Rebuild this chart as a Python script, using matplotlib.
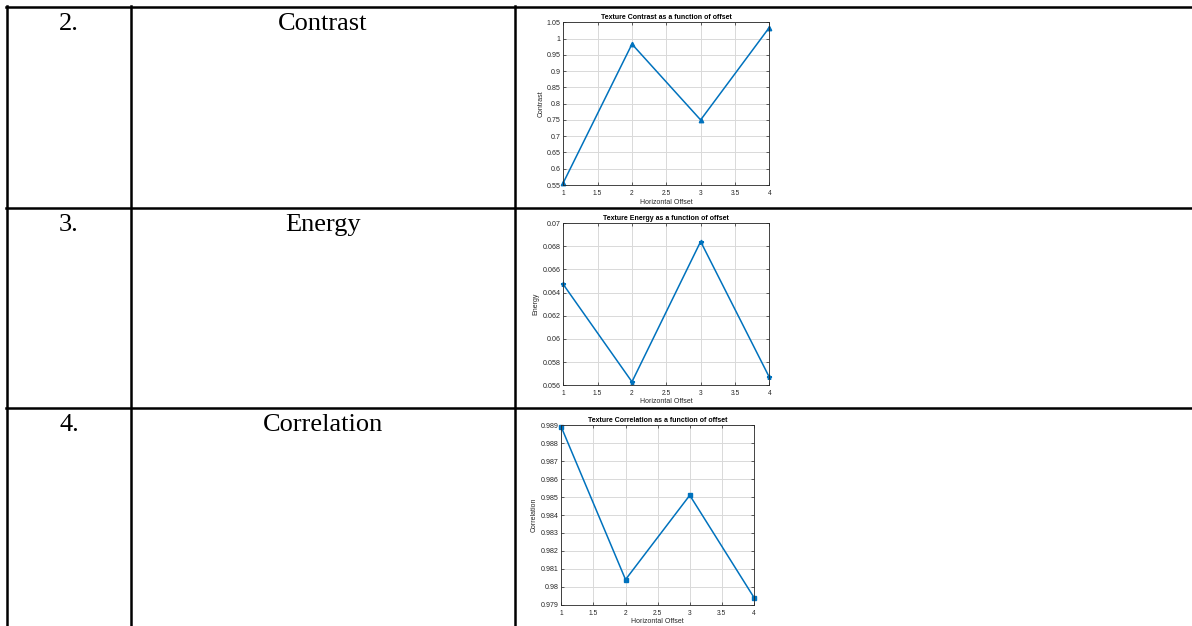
import matplotlib
matplotlib.use("Agg")
import matplotlib.pyplot as plt
from matplotlib.lines import Line2D
import numpy as np

W, H = 1192, 626

# table rows
row_nums = ["2.", "3.", "4."]
row_names = ["Contrast", "Energy", "Correlation"]

# chart data
offsets = [1, 2, 3, 4]
contrast = [0.557, 0.983, 0.750, 1.034]
energy = [0.0647, 0.0563, 0.0684, 0.0567]
correlation = [0.9889, 0.9804, 0.9851, 0.9794]

x_ticks = [1, 1.5, 2, 2.5, 3, 3.5, 4]
contrast_ticks = [0.55, 0.6, 0.65, 0.7, 0.75, 0.8, 0.85, 0.9, 0.95, 1.0, 1.05]
energy_ticks = [0.056, 0.058, 0.06, 0.062, 0.064, 0.066, 0.068, 0.07]
corr_ticks = [0.979, 0.98, 0.981, 0.982, 0.983, 0.984, 0.985, 0.986, 0.987, 0.988, 0.989]

fig = plt.figure(figsize=(W / 100, H / 100), dpi=100)
fig.patch.set_facecolor("white")


def hline(y, x0, x1, lw=1.8):
    fig.add_artist(Line2D([x0 / W, x1 / W], [1 - y / H, 1 - y / H],
                          transform=fig.transFigure, color="black", lw=lw))


def vline(x, y0, y1, lw=1.8):
    fig.add_artist(Line2D([x / W, x / W], [1 - y0 / H, 1 - y1 / H],
                          transform=fig.transFigure, color="black", lw=lw))


# table grid
for y in [6.5, 207.5, 407.5]:
    hline(y, 6, W)
for x in [7, 131, 515]:
    vline(x, 5.5, H)

row_tops = [6.5, 207.5, 407.5]
for top, num, name in zip(row_tops, row_nums, row_names):
    fig.text(69 / W, 1 - (top + 17.5) / H, num, ha="center", va="center",
             family="Liberation Serif", fontsize=19)
    fig.text(323 / W, 1 - (top + 17.5) / H, name, ha="center", va="center",
             family="Liberation Serif", fontsize=19)


def fmt(v):
    s = ("%.4f" % v).rstrip("0").rstrip(".")
    return s


def chart(rect_px, yvals, yticks, marker, ms, title, ylabel, ylab_x, xlab_y):
    l, t, r, b = rect_px
    ax = fig.add_axes([l / W, 1 - b / H, (r - l) / W, (b - t) / H])
    ax.plot(offsets, yvals, color="#0072BD", lw=1.1, marker=marker, ms=ms,
            markerfacecolor="#0072BD", markeredgecolor="#0072BD", clip_on=False)
    ax.set_xlim(1, 4)
    ax.set_ylim(yticks[0], yticks[-1])
    ax.set_xticks(x_ticks)
    ax.set_xticklabels([fmt(v) for v in x_ticks])
    ax.set_yticks(yticks)
    ax.set_yticklabels([fmt(v) for v in yticks])
    ax.grid(True, color="#d9d9d9", lw=0.7)
    ax.set_axisbelow(True)
    ax.tick_params(direction="in", length=2, width=0.5,
                   colors="#262626", top=True, right=True)
    ax.tick_params(axis="x", labelsize=4.8, pad=3.5)
    ax.tick_params(axis="y", labelsize=5.1, pad=2)
    for s in ax.spines.values():
        s.set_color("#262626")
        s.set_linewidth(0.6)
    ax.set_title(title, fontsize=5, fontweight="bold", pad=2.5,
                 family="Liberation Sans")
    ax.set_xlabel("Horizontal Offset", fontsize=5, color="#262626",
                  family="Liberation Sans")
    ax.set_ylabel(ylabel, fontsize=5, color="#262626",
                  family="Liberation Sans")
    ax.yaxis.set_label_coords(ylab_x, 0.5)
    ax.xaxis.set_label_coords(0.5, xlab_y)
    for lab in ax.get_xticklabels() + ax.get_yticklabels():
        lab.set_family("Liberation Sans")
    return ax


chart((563.3, 22.3, 769.3, 185), contrast, contrast_ticks, "^", 3.2,
      "Texture Contrast as a function of offset", "Contrast", -0.092, -0.083)
chart((563.3, 223, 769.3, 385.3), energy, energy_ticks, "*", 3.5,
      "Texture Energy as a function of offset", "Energy", -0.118, -0.076)
chart((561.3, 425.3, 754, 604.7), correlation, corr_ticks, "s", 2.2,
      "Texture Correlation as a function of offset", "Correlation", -0.122, -0.076)

fig.savefig("out.png", dpi=100)
